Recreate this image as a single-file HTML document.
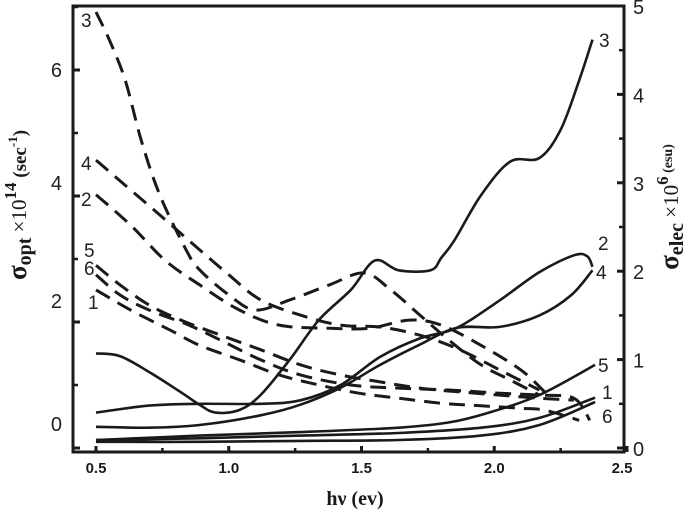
<!DOCTYPE html>
<html><head><meta charset="utf-8"><style>
html,body{margin:0;padding:0;background:#fff;}
svg{display:block;font-family:"Liberation Sans",sans-serif;}
</style></head><body>
<svg id="chart" width="685" height="520" viewBox="0 0 685 520" xmlns="http://www.w3.org/2000/svg">
<rect x="73" y="6" width="551" height="446" fill="none" stroke="#1a1a1a" stroke-width="3"/>
<g id="axes"></g>
<g id="series"></g>
<text x="-205" y="26" transform="rotate(-90)" text-anchor="middle" font-family="Liberation Serif,serif" font-weight="bold" font-size="27" fill="#1a1a1a">σ<tspan font-size="20" dy="5">opt</tspan><tspan dy="-5" font-size="21" font-weight="normal"> ×10</tspan><tspan font-size="17" dy="-10">14</tspan><tspan font-size="19" dy="10"> (sec</tspan><tspan font-size="13" dy="-9">-1</tspan><tspan font-size="19" dy="9">)</tspan></text>
<text x="-207" y="678" transform="rotate(-90)" text-anchor="middle" font-family="Liberation Serif,serif" font-weight="bold" font-size="27" fill="#1a1a1a">σ<tspan font-size="20" dy="5">elec</tspan><tspan dy="-5" font-size="21" font-weight="normal"> ×10</tspan><tspan font-size="17" dy="-10">6</tspan><tspan font-size="14" dy="4"> (esu)</tspan></text>
<text x="355" y="505" text-anchor="middle" font-family="Liberation Serif,serif" font-weight="bold" font-size="20" fill="#1a1a1a">hν (ev)</text>
<g font-size="19" fill="#222">
<text x="81" y="27">3</text>
<text x="81" y="170">4</text>
<text x="81" y="206">2</text>
<text x="84" y="257">5</text>
<text x="84" y="275">6</text>
<text x="88" y="309">1</text>
<text x="599" y="47">3</text>
<text x="598" y="250">2</text>
<text x="596" y="279">4</text>
<text x="598" y="372">5</text>
<text x="602" y="399">1</text>
<text x="602" y="423">6</text>
</g>
</svg>
<script>
const xTicks = [0.5, 1.0, 1.5, 2.0, 2.5];
const xTickLabels = ["0.5", "1.0", "1.5", "2.0", "2.5"];
const leftTicks = [0, 2, 4, 6];
const rightTicks = [0, 1, 2, 3, 4, 5];

const dash3X = [0.50,0.55,0.61,0.67,0.74,0.84,0.89,1.00,1.10,1.23,1.38,1.51,1.61,1.72,1.83,1.95,2.06,2.17];
const dash3Y = [6.92,6.48,5.84,4.89,4.02,3.14,2.83,2.43,2.19,2.35,2.59,2.78,2.51,2.11,1.71,1.32,1.08,0.84];
const dash4X = [0.50,0.61,0.74,0.87,1.00,1.12,1.27,1.42,1.57,1.72,1.87,2.02,2.17];
const dash4Y = [4.57,4.17,3.70,3.22,2.75,2.35,2.11,1.95,1.92,1.79,1.56,1.24,0.92];
const dash2X = [0.50,0.63,0.76,0.89,1.04,1.19,1.38,1.53,1.68,1.80,1.95,2.10,2.19];
const dash2Y = [4.02,3.54,2.98,2.59,2.19,1.95,1.90,1.90,2.03,1.95,1.63,1.24,0.89];
const dash5X = [0.50,0.59,0.70,0.82,0.97,1.12,1.27,1.42,1.57,1.72,1.87,2.02,2.17,2.30];
const dash5Y = [2.90,2.59,2.27,2.03,1.79,1.56,1.32,1.16,1.05,0.95,0.89,0.84,0.79,0.76];
const dash6X = [0.50,0.59,0.70,0.85,0.97,1.12,1.27,1.46,1.64,1.83,2.02,2.17,2.30,2.36];
const dash6Y = [2.75,2.43,2.19,1.95,1.71,1.40,1.16,1.00,0.95,0.92,0.87,0.84,0.79,0.44];
const dash1X = [0.50,0.63,0.78,0.89,1.04,1.19,1.34,1.49,1.64,1.80,1.95,2.10,2.19,2.32];
const dash1Y = [2.51,2.19,1.87,1.63,1.40,1.16,1.00,0.87,0.79,0.71,0.67,0.63,0.60,0.44];

const solid3X = [0.50,0.59,0.70,0.82,0.89,0.95,1.04,1.12,1.23,1.34,1.46,1.55,1.64,1.76,1.80,1.85,1.95,2.06,2.17,2.25,2.32,2.37];
const solid3Y = [1.07,1.04,0.86,0.63,0.49,0.40,0.43,0.60,1.00,1.45,1.79,2.12,2.01,2.01,2.15,2.35,2.86,3.24,3.28,3.60,4.16,4.62];
const solid2X = [0.50,0.70,0.89,1.12,1.27,1.42,1.57,1.72,1.86,2.02,2.17,2.30,2.35,2.37];
const solid2Y = [0.40,0.48,0.50,0.50,0.54,0.71,1.03,1.24,1.36,1.67,1.99,2.18,2.17,2.05];
const solid4X = [0.50,0.70,0.89,1.12,1.27,1.42,1.57,1.72,1.86,2.02,2.17,2.29,2.37];
const solid4Y = [0.24,0.23,0.26,0.37,0.49,0.68,0.94,1.17,1.36,1.37,1.50,1.73,2.01];
const solid5X = [0.50,0.89,1.27,1.64,1.83,1.98,2.17,2.38];
const solid5Y = [0.09,0.14,0.18,0.23,0.29,0.40,0.60,0.94];
const solid1X = [0.50,0.89,1.27,1.64,1.95,2.17,2.38];
const solid1Y = [0.09,0.11,0.14,0.17,0.23,0.34,0.57];
const solid6X = [0.50,0.89,1.27,1.64,1.95,2.17,2.38];
const solid6Y = [0.07,0.07,0.08,0.09,0.14,0.26,0.52];

const NS = "http://www.w3.org/2000/svg";
function sx(v){ return 96 + (v - 0.5) * 265.5; }
function syL(v){ return 448 - v * 63; }
function syR(v){ return 448 - v * 88.4; }

const axes = document.getElementById('axes');
function mk(tag, attrs, parent){
  const e = document.createElementNS(NS, tag);
  for (const k in attrs) e.setAttribute(k, attrs[k]);
  parent.appendChild(e);
  return e;
}
xTicks.forEach((t, i) => {
  const l = mk('line', {x1: sx(t), x2: sx(t), y1: 452, y2: 446, stroke: '#1a1a1a', 'stroke-width': 3}, axes);
  
  
  if (i < xTicks.length - 1) {
    const m = mk('line', {x1: sx(t + 0.25), x2: sx(t + 0.25), y1: 452, y2: 448, stroke: '#1a1a1a', 'stroke-width': 2.5}, axes);
    
    
  }
  const tx = mk('text', {x: Math.min(sx(t), 622), y: 473, 'text-anchor': 'middle', 'font-size': 15, 'font-weight': 'bold', fill: '#1a1a1a'}, axes);
  tx.textContent = xTickLabels[i];
  
  
});
const leftLabelY = {0: 431, 2: 308, 4: 190, 6: 77};
leftTicks.forEach(t => {
  const l = mk('line', {x1: 73, x2: 80, y1: syL(t), y2: syL(t), stroke: '#1a1a1a', 'stroke-width': 3}, axes);
  
  
  const m = mk('line', {x1: 73, x2: 78, y1: syL(t + 1), y2: syL(t + 1), stroke: '#1a1a1a', 'stroke-width': 2.5}, axes);
  
  
  const tx = mk('text', {x: 62, y: leftLabelY[t], 'text-anchor': 'end', 'font-size': 20, fill: '#222'}, axes);
  tx.textContent = String(t);
  
  
});
rightTicks.forEach(t => {
  const l = mk('line', {x1: 617, x2: 624, y1: syR(t), y2: syR(t), stroke: '#1a1a1a', 'stroke-width': 3}, axes);
  
  
  if (t < 5) {
    const m = mk('line', {x1: 619, x2: 624, y1: syR(t + 0.5), y2: syR(t + 0.5), stroke: '#1a1a1a', 'stroke-width': 2.5}, axes);
    
    
  }
  const tx = mk('text', {x: 633, y: syR(t) + 8, 'font-size': 20, fill: '#222'}, axes);
  tx.textContent = String(t);
  
  
});

function smooth(pts){
  let d = 'M' + pts[0][0].toFixed(1) + ',' + pts[0][1].toFixed(1);
  for (let i = 0; i < pts.length - 1; i++) {
    const p0 = pts[Math.max(0, i - 1)], p1 = pts[i], p2 = pts[i + 1], p3 = pts[Math.min(pts.length - 1, i + 2)];
    const c1x = p1[0] + (p2[0] - p0[0]) / 6, c1y = p1[1] + (p2[1] - p0[1]) / 6;
    const c2x = p2[0] - (p3[0] - p1[0]) / 6, c2y = p2[1] - (p3[1] - p1[1]) / 6;
    d += ' C' + c1x.toFixed(1) + ',' + c1y.toFixed(1) + ' ' + c2x.toFixed(1) + ',' + c2y.toFixed(1) + ' ' + p2[0].toFixed(1) + ',' + p2[1].toFixed(1);
  }
  return d;
}
const series = document.getElementById('series');
function draw(xs, ys, yfn, dashed, name){
  const pts = xs.map((x, i) => [sx(x), yfn(ys[i])]);
  const p = mk('path', {d: smooth(pts), fill: 'none', stroke: '#1a1a1a', 'stroke-width': dashed ? 3 : 2.6, 'stroke-linecap': 'butt', 'stroke-linejoin': 'round'}, series);
  if (dashed) p.setAttribute('stroke-dasharray', '16 9');
  
  
}
draw(dash3X, dash3Y, syL, true, 'sigma-opt-3-line');
draw(dash4X, dash4Y, syL, true, 'sigma-opt-4-line');
draw(dash2X, dash2Y, syL, true, 'sigma-opt-2-line');
draw(dash5X, dash5Y, syL, true, 'sigma-opt-5-line');
draw(dash6X, dash6Y, syL, true, 'sigma-opt-6-line');
draw(dash1X, dash1Y, syL, true, 'sigma-opt-1-line');
draw(solid3X, solid3Y, syR, false, 'sigma-elec-3-line');
draw(solid2X, solid2Y, syR, false, 'sigma-elec-2-line');
draw(solid4X, solid4Y, syR, false, 'sigma-elec-4-line');
draw(solid5X, solid5Y, syR, false, 'sigma-elec-5-line');
draw(solid1X, solid1Y, syR, false, 'sigma-elec-1-line');
draw(solid6X, solid6Y, syR, false, 'sigma-elec-6-line');
</script>
</body></html>
